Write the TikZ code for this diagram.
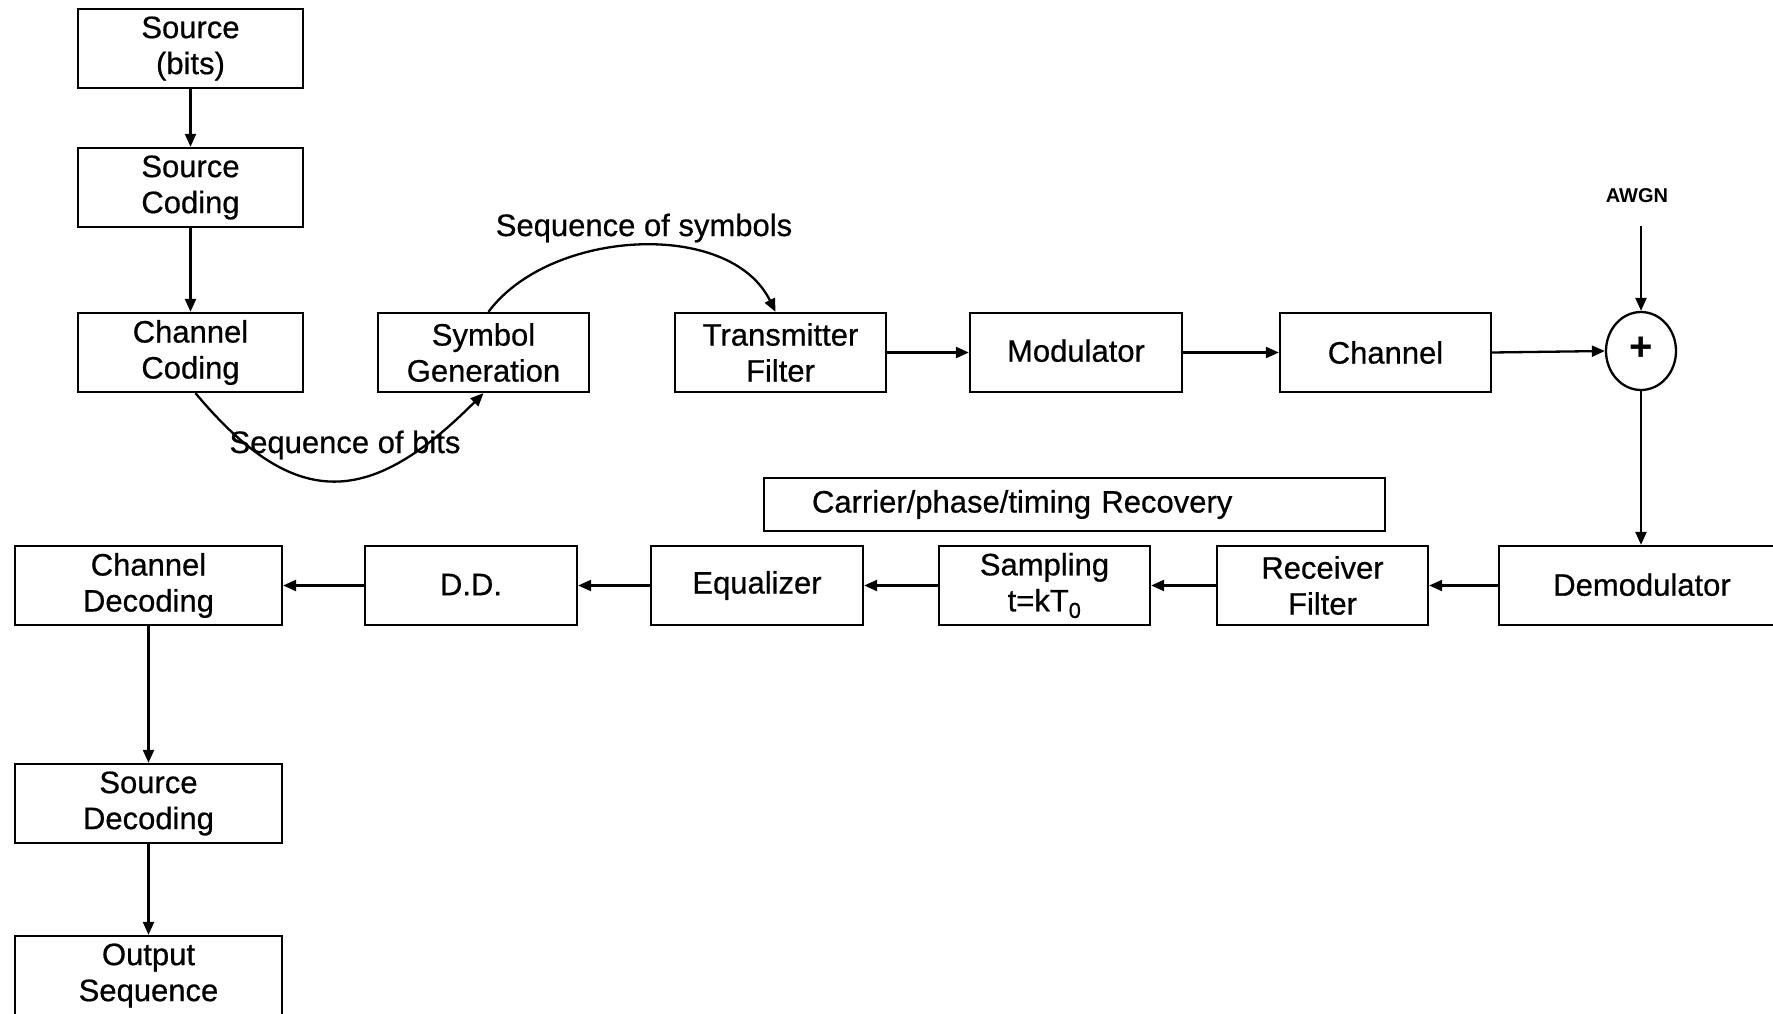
\documentclass[tikz,border=0pt]{standalone}
\usepackage{fontspec}
\setmainfont{Liberation Sans}[UprightFeatures={FakeBold=0.6}]
\usetikzlibrary{arrows.meta,shapes.geometric}
\begin{document}
\begin{tikzpicture}[x=1pt,y=-1pt,
  line width=2.3pt,
  >={Triangle[length=13pt,width=11pt]},
  blk/.style={draw, rectangle, minimum height=79pt, inner sep=2pt, align=center,
    font=\fontsize{31}{36}\selectfont},
  lbl/.style={font=\fontsize{31}{36}\selectfont, inner sep=1pt},
  conn/.style={->}]
\useasboundingbox[fill=white] (0,0) rectangle (1773,1014);
% transmitter chain
\node[blk, minimum width=225pt] (src) at (190.5,48.5) {Source\\(bits)};
\node[blk, minimum width=225pt] (scod) at (190.5,187.5) {Source\\Coding};
\node[blk, minimum width=225pt] (ccod) at (190.5,352.5) {\raisebox{-3pt}{Channel}\\\raisebox{-3pt}{Coding}};
\node[blk, minimum width=211pt] (sg) at (483.5,352.5) {Symbol\\Generation};
\node[blk, minimum width=211pt] (tf) at (780.5,352.5) {Transmitter\\Filter};
\node[blk, minimum width=212pt] (mod) at (1076,352.5) {\raisebox{4pt}{Modulator}};
\node[blk, minimum width=211pt] (chan) at (1385.5,352.5) {Channel};
\node[draw, ellipse, minimum width=70pt, minimum height=78pt, inner sep=0pt,
  font=\fontsize{40}{40}\selectfont\bfseries] (sum) at (1641,351) {\raisebox{4pt}{+}};
\node[font=\fontsize{20}{20}\selectfont\bfseries, inner sep=1pt] (awgn) at (1637,196) {AWGN};
\coordinate (awgnin) at (1641,226);
% receiver chain
\node[blk, minimum width=286pt] (dem) at (1642,585.5) {\raisebox{2pt}{Demodulator}};
\node[blk, minimum width=211pt] (rf) at (1322.5,585.5) {Receiver\\Filter};
\node[blk, minimum width=211pt] (samp) at (1044.5,585.5) {Sampling\\t=kT\textsubscript{0}};
\node[blk, minimum width=212pt] (eq) at (757,585.5) {\raisebox{2pt}{Equalizer}};
\node[blk, minimum width=212pt] (dd) at (471,585.5) {\raisebox{2pt}{D.D.}};
\node[blk, minimum width=267pt] (cdec) at (148.5,585.5) {Channel\\Decoding};
\node[blk, minimum width=267pt] (sdec) at (148.5,803.5) {\raisebox{-3pt}{Source}\\\raisebox{-3pt}{Decoding}};
\node[blk, minimum width=267pt] (out) at (148.5,975.5) {\raisebox{-3pt}{Output}\\\raisebox{-3pt}{Sequence}};
\node[draw, rectangle, minimum height=53pt, text width=525pt, inner xsep=48pt,
  align=left, font=\fontsize{31}{36}\selectfont] (rec) at (1074.5,504.5) {\raisebox{-5pt}{Carrier/phase/timing Recovery}};
% labels
\node[lbl] (lsym) at (644,228) {Sequence of symbols};
\node[lbl] (lbits) at (345,445) {Sequence of bits};
% connectors
\draw[conn] (src) -- (scod);
\draw[conn] (scod) -- (ccod);
\draw[conn] ([xshift=5pt]ccod.south) .. controls +(101,121) and +(-112,112) .. (sg.south);
\draw[conn] ([xshift=5pt]sg.north) .. controls +(61.5,-83) and +(-45.5,-93) .. ([xshift=-5pt]tf.north);
\draw[conn] (tf) -- (mod);
\draw[conn] (mod) -- (chan);
\draw[conn] (chan.east) -- (sum.west);
\draw[conn] (awgnin) -- (sum.north);
\draw[conn] (sum.south) -- (sum |- dem.north);
\draw[conn] (dem) -- (rf);
\draw[conn] (rf) -- (samp);
\draw[conn] (samp) -- (eq);
\draw[conn] (eq) -- (dd);
\draw[conn] (dd) -- (cdec);
\draw[conn] (cdec) -- (sdec);
\draw[conn] (sdec) -- (out);
\end{tikzpicture}
\end{document}
